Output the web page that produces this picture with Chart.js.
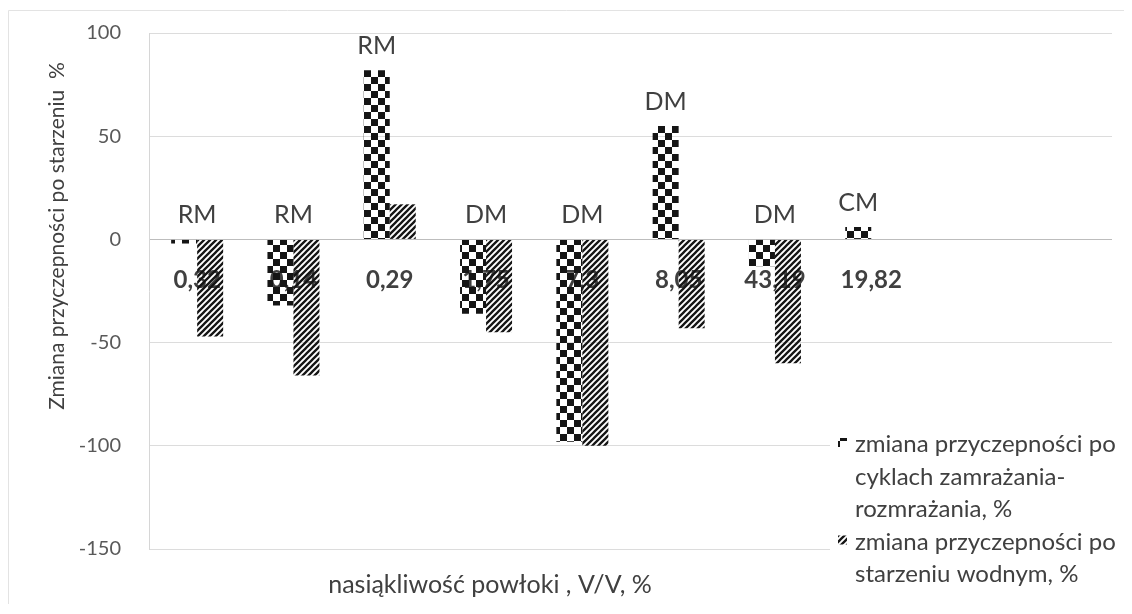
<!DOCTYPE html>
<html>
<head>
<meta charset="utf-8">
<script src="https://cdn.jsdelivr.net/npm/chart.js@4"></script>
<style>
  html, body { margin: 0; padding: 0; background: #ffffff; }
  #wrap { width: 1132px; height: 614px; position: relative; }
</style>
</head>
<body>
<div id="wrap"><canvas id="c" width="1132" height="614"></canvas></div>
<script>
// Coating water absorption (category labels), two empty slots reserve room for the legend
const categories = ['0,32', '0,14', '0,29', '1,75', '7,3', '8,05', '43,19', '19,82', '', ''];
// Coating type shown above each group
const coatingTypes = ['RM', 'RM', 'RM', 'DM', 'DM', 'DM', 'DM', 'CM'];
// Adhesion change after freeze–thaw cycles, %
const freezeThawChange = [-2, -32, 82, -36, -98, 55, -13, 6];
// Adhesion change after water ageing, %
const waterAgingChange = [-47, -66, 17, -45, -100, -43, -60, null];
// Value axis ticks
const yTicks = [100, 50, 0, -50, -100, -150];
const seriesNames = [
  ['zmiana przyczepności po', 'cyklach zamrażania-', 'rozmrażania, %'],
  ['zmiana przyczepności po', 'starzeniu wodnym, %']
];
const yTitle = 'Zmiana przyczepności po starzeniu  %';
const xTitle = 'nasiąkliwość powłoki , V/V, %';

const FONT = 'Lato, "Open Sans", "DejaVu Sans", sans-serif';
const TEXT = '#404040';

function checkerPattern() {
  const c = document.createElement('canvas');
  c.width = 14; c.height = 14;
  const g = c.getContext('2d');
  g.fillStyle = '#151515';
  g.fillRect(0, 0, 7, 7);
  g.fillRect(7, 7, 7, 7);
  return g.createPattern(c, 'repeat');
}
function hatchPattern() {
  const s = 6;
  const c = document.createElement('canvas');
  c.width = s; c.height = s;
  const g = c.getContext('2d');
  g.strokeStyle = '#151515';
  g.lineWidth = 2.3;
  g.lineCap = 'square';
  g.beginPath();
  g.moveTo(0, s); g.lineTo(s, 0);
  g.moveTo(-1, 1); g.lineTo(1, -1);
  g.moveTo(s - 1, s + 1); g.lineTo(s + 1, s - 1);
  g.stroke();
  return g.createPattern(c, 'repeat');
}
const checker = checkerPattern();
const hatch = hatchPattern();

// Category values written just below the zero line, underneath the bars
const categoryLabels = {
  id: 'categoryLabels',
  beforeDatasetsDraw(chart) {
    const { ctx, scales: { x, y } } = chart;
    const y0 = y.getPixelForValue(0);
    ctx.save();
    ctx.font = 'bold 24px ' + FONT;
    ctx.fillStyle = TEXT;
    ctx.textAlign = 'center';
    ctx.textBaseline = 'middle';
    categories.forEach((c, i) => {
      if (c) ctx.fillText(c, x.getPixelForValue(i), y0 + 41);
    });
    ctx.restore();
  }
};

// Coating-type tags, titles, legend and frame
const decorations = {
  id: 'decorations',
  afterDatasetsDraw(chart) {
    const { ctx, chartArea: a, scales: { x, y } } = chart;
    const meta = chart.getDatasetMeta(0);
    ctx.save();
    // type tags
    ctx.font = '25px ' + FONT;
    ctx.fillStyle = TEXT;
    ctx.textAlign = 'center';
    ctx.textBaseline = 'middle';
    coatingTypes.forEach((t, i) => {
      const v = freezeThawChange[i];
      const bar = meta.data[i];
      const cx = v > 0 ? bar.x : x.getPixelForValue(i);
      ctx.fillText(t, cx, y.getPixelForValue(Math.max(v, 0)) - 24);
    });

    // axis titles
    ctx.fillStyle = TEXT;
    ctx.font = '21px ' + FONT;
    ctx.save();
    ctx.translate(57, 236);
    ctx.rotate(-Math.PI / 2);
    ctx.fillText(yTitle, 0, 0);
    ctx.restore();
    ctx.font = '25px ' + FONT;
    ctx.fillText(xTitle, 490, 585);

    // legend
    const lx = a.right - 274, ly = 423;
    ctx.fillStyle = '#ffffff';
    ctx.fillRect(lx - 8, ly, 300, 185);
    ctx.font = '24px ' + FONT;
    ctx.textAlign = 'left';
    ctx.textBaseline = 'alphabetic';
    const fills = [checker, hatch];
    let ty = ly + 29;
    seriesNames.forEach((lines, k) => {
      ctx.fillStyle = fills[k];
      ctx.fillRect(lx, ty - 14, 9, 9);
      ctx.fillStyle = TEXT;
      lines.forEach((ln) => {
        ctx.fillText(ln, lx + 17, ty);
        ty += 32.5;
      });
    });

    // chart frame (top and left edges)
    ctx.strokeStyle = '#e3e3e3';
    ctx.lineWidth = 1;
    ctx.beginPath();
    ctx.moveTo(8.5, 604);
    ctx.lineTo(8.5, 10.5);
    ctx.lineTo(1124, 10.5);
    ctx.stroke();
    ctx.restore();
  }
};

new Chart(document.getElementById('c'), {
  type: 'bar',
  data: {
    labels: categories,
    datasets: [
      { label: seriesNames[0].join(' '), data: freezeThawChange, backgroundColor: checker, borderWidth: 0 },
      { label: seriesNames[1].join(' '), data: waterAgingChange, backgroundColor: hatch, borderWidth: 0 }
    ]
  },
  options: {
    responsive: false,
    animation: false,
    devicePixelRatio: 1,
    layout: { padding: { left: 0, right: 20, top: 33, bottom: 65 } },
    datasets: { bar: { barPercentage: 1, categoryPercentage: 0.54 } },
    plugins: { legend: { display: false }, tooltip: { enabled: false } },
    scales: {
      x: { display: false },
      y: {
        min: yTicks[yTicks.length - 1],
        max: yTicks[0],
        afterFit(scale) {
          scale.width = 149;
          scale.paddingTop = 0;
          scale.paddingBottom = 0;
        },
        afterBuildTicks(scale) { scale.ticks = yTicks.map(v => ({ value: v })); },
        ticks: { color: '#595959', font: { family: FONT, size: 20 }, padding: 28 },
        grid: {
          drawTicks: false,
          color: (c) => (c.tick && c.tick.value === 0 ? '#bdbdbd' : '#dcdcdc'),
          lineWidth: 1
        },
        border: { display: true, color: '#d6d6d6' }
      }
    }
  },
  plugins: [categoryLabels, decorations]
});
</script>
</body>
</html>
